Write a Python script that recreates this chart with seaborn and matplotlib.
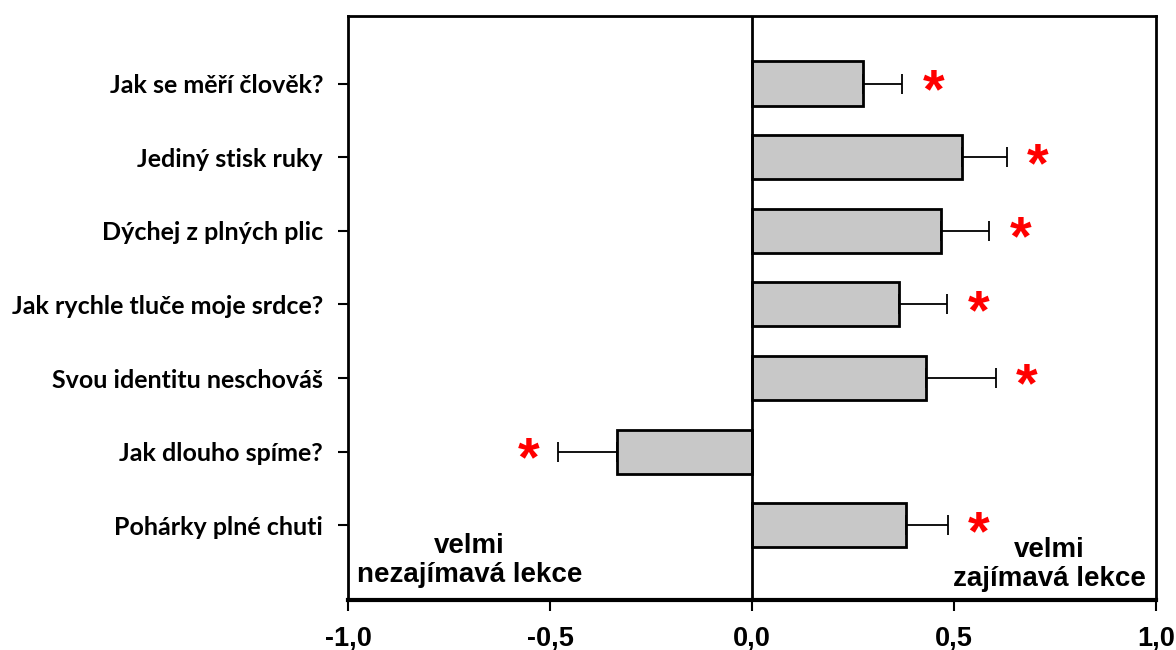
import matplotlib
matplotlib.use("Agg")
import matplotlib.pyplot as plt
import seaborn as sns
import numpy as np

# Lesson ratings: mean score and its standard error
lessons = [
    "Jak se měří člověk?",
    "Jediný stisk ruky",
    "Dýchej z plných plic",
    "Jak rychle tluče moje srdce?",
    "Svou identitu neschováš",
    "Jak dlouho spíme?",
    "Pohárky plné chuti",
]
scores = [0.275, 0.521, 0.467, 0.364, 0.430, -0.334, 0.380]
errors = [0.097, 0.109, 0.120, 0.119, 0.174, 0.147, 0.104]
significant = [True, True, True, True, True, True, True]

x_ticks = [-1.0, -0.5, 0.0, 0.5, 1.0]
x_tick_labels = ["-1,0", "-0,5", "0,0", "0,5", "1,0"]
label_low = ["velmi", "nezajímavá lekce"]
label_high = ["velmi", "zajímavá lekce"]

sns.set_style("white")
plt.rcParams["font.family"] = ["Lato", "DejaVu Sans"]
for key in ["text.color", "axes.labelcolor", "xtick.color", "ytick.color"]:
    plt.rcParams[key] = "black"

fig = plt.figure(figsize=(11.76, 6.5), dpi=100)
ax = fig.add_axes([348 / 1176, 1 - 600 / 650, (1156 - 348) / 1176, (600 - 16) / 650])

sns.barplot(x=scores, y=lessons, orient="h", color="#c8c8c8", saturation=1,
            edgecolor="black", linewidth=2, width=0.6, errorbar=None, ax=ax)

# one-sided error bars pointing away from zero
scores_arr = np.array(scores)
err_arr = np.array(errors)
lower = np.where(scores_arr < 0, err_arr, 0)
upper = np.where(scores_arr >= 0, err_arr, 0)
ypos = np.arange(len(lessons))
ax.errorbar(scores_arr, ypos, xerr=[lower, upper], fmt="none", ecolor="black",
            elinewidth=1.3, capsize=7, capthick=1.3, zorder=3)

# significance stars just beyond the error bar caps
for i, (s, e, sig) in enumerate(zip(scores, errors, significant)):
    if not sig:
        continue
    tip = s + e if s >= 0 else s - e
    xs = tip + 0.077 if s >= 0 else tip - 0.072
    ax.annotate("*", xy=(xs, i), xytext=(0, -7), textcoords="offset points",
                ha="center", va="center", color="red", fontsize=40,
                fontweight="bold", family=["Liberation Sans", "DejaVu Sans"])

ax.axvline(0, color="black", linewidth=2, zorder=4)

ax.set_xlim(-1, 1)
ax.set_ylim(7.015, -0.917)
ax.set_xticks(x_ticks)
ax.set_xticklabels(x_tick_labels, fontsize=19.5, fontweight="bold",
                   family=["Liberation Sans Narrow", "Liberation Sans"])
ax.set_yticks(ypos)
ax.set_yticklabels(lessons, fontsize=18, fontweight="bold")
ax.set_xlabel("")
ax.set_ylabel("")

ax.tick_params(axis="x", direction="out", length=8, width=1.5, pad=10,
               bottom=True, top=False)
ax.tick_params(axis="y", direction="out", length=7, width=1.5, pad=11,
               left=True, right=False)

for side in ["left", "top", "right"]:
    ax.spines[side].set_visible(True)
    ax.spines[side].set_color("black")
    ax.spines[side].set_linewidth(2)
ax.spines["bottom"].set_color("black")
ax.spines["bottom"].set_linewidth(3)

# scale-end descriptions, one text per line
text_font = ["Liberation Sans", "DejaVu Sans"]
for line, y in zip(label_low, [6.37, 6.775]):
    ax.text(-0.70, y, line, ha="center", va="baseline", fontsize=20,
            fontweight="bold", family=text_font)
for line, y in zip(label_high, [6.43, 6.82]):
    ax.text(0.737, y, line, ha="center", va="baseline", fontsize=20,
            fontweight="bold", family=text_font)

fig.savefig("out.png", dpi=100)
